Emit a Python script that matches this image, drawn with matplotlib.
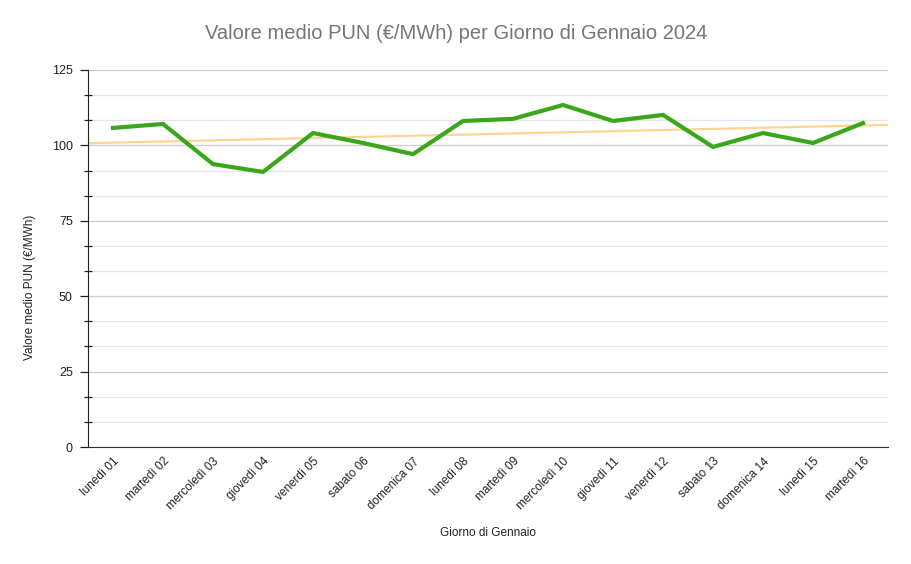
import numpy as np
import matplotlib
matplotlib.use("Agg")
import matplotlib.pyplot as plt
from matplotlib.ticker import MultipleLocator

plt.rcParams["font.family"] = ["Liberation Sans", "DejaVu Sans"]

# --- Data --------------------------------------------------------------------

days = [
    "lunedì 01", "martedì 02", "mercoledì 03", "giovedì 04",
    "venerdì 05", "sabato 06", "domenica 07", "lunedì 08",
    "martedì 09", "mercoledì 10", "giovedì 11", "venerdì 12",
    "sabato 13", "domenica 14", "lunedì 15", "martedì 16",
]
pun_values = [
    105.8, 107.1, 93.8, 91.2, 104.1, 100.8, 97.1, 108.1,
    108.8, 113.4, 108.1, 110.1, 99.5, 104.1, 100.8, 107.4,
]

# --- Plot --------------------------------------------------------------------

fig = plt.figure(figsize=(9.12, 5.64), dpi=100)
ax = fig.add_axes([0.0965, 0.2074, 0.8772, 0.6685])

x = np.arange(len(days))
y = np.array(pun_values)

# linear trendline across the full plot width
slope, intercept = np.polyfit(x, y, 1)
tx = np.array([-0.5, len(days) - 0.5])
ax.plot(tx, slope * tx + intercept, color="#ffcc80", lw=1.6, alpha=0.85, zorder=2)

ax.plot(x, y, color="#3aa61a", lw=3, solid_joinstyle="miter", zorder=3)

ax.set_xlim(-0.5, len(days) - 0.5)
ax.set_ylim(0, 125)
ax.yaxis.set_major_locator(MultipleLocator(25))
ax.yaxis.set_minor_locator(MultipleLocator(25 / 3))
ax.grid(axis="y", which="major", color="#cccccc", lw=0.9)
ax.grid(axis="y", which="minor", color="#e6e6e6", lw=0.9)
ax.set_axisbelow(True)

for side in ("top", "right"):
    ax.spines[side].set_visible(False)
ax.spines["left"].set_color("#222222")
ax.spines["bottom"].set_color("#333333")

ax.tick_params(axis="y", which="major", length=6, width=0.9, color="#222222",
               labelsize=9, labelcolor="#222222", pad=5)
ax.tick_params(axis="y", which="minor", length=6, width=0.9, color="#222222",
               direction="inout")
ax.tick_params(axis="x", length=0, labelsize=8.5, labelcolor="#222222", pad=6)

ax.set_xticks(x)
ax.set_xticklabels(days, rotation=45, ha="right", rotation_mode="anchor")

fig.text(30 / 912, 1 - 287 / 564, "Valore medio PUN (€/MWh)", rotation=90,
         ha="center", va="center", fontsize=8.5, color="#222222")
fig.text(0.535, 0.055, "Giorno di Gennaio", ha="center", va="center",
         fontsize=8.5, color="#222222")
fig.text(0.5, 0.94, "Valore medio PUN (€/MWh) per Giorno di Gennaio 2024",
         ha="center", va="center", fontsize=14.5, color="#757575")

fig.savefig("out.png", dpi=100)
